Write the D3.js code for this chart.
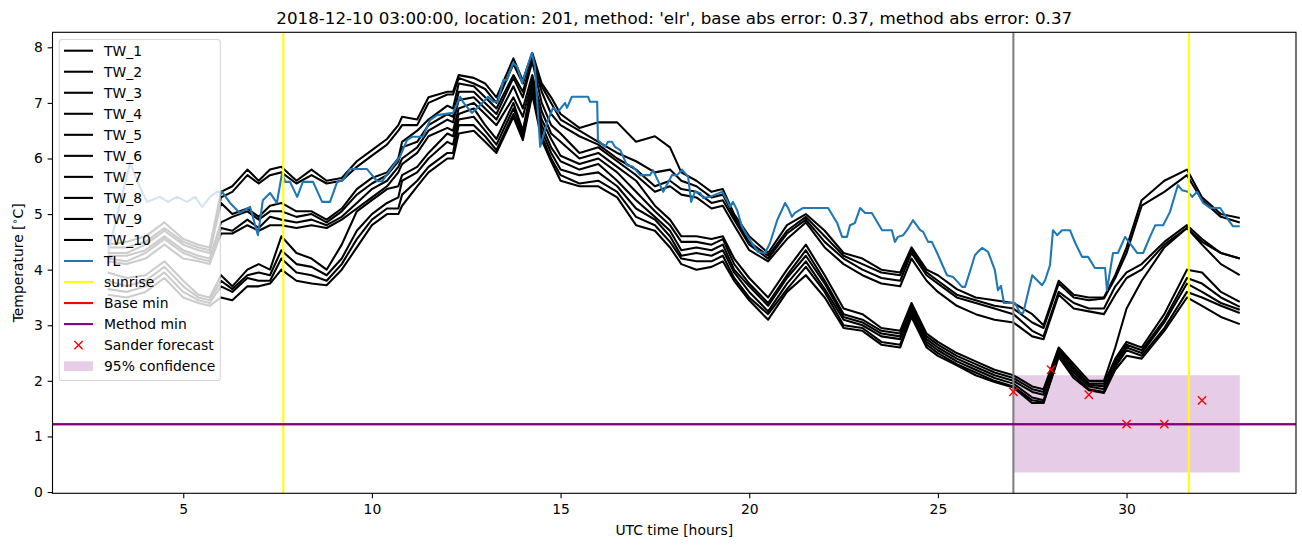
<!DOCTYPE html>
<html><head><meta charset="utf-8">
<script src="https://cdn.jsdelivr.net/npm/d3@7"></script>
<style>
body{margin:0;background:#fff}
svg{font-family:"DejaVu Sans",sans-serif;display:block}
</style>
</head><body>
<svg id="chart" width="1302" height="547"></svg>
<script>
// ---------------- data ----------------
const titleText = "2018-12-10 03:00:00, location: 201, method: 'elr', base abs error: 0.37, method abs error: 0.37";
const xLabel = "UTC time [hours]";
const xTicks = [5, 10, 15, 20, 25, 30];
const yTicks = [0, 1, 2, 3, 4, 5, 6, 7, 8];

const twTimes = [3.0,3.5,4.0,4.5,5.0,5.4,5.7,6.0,6.3,6.7,7.0,7.3,7.6,8.0,8.4,8.8,9.2,9.6,10.0,10.4,10.7,10.8,11.2,11.5,12.0,12.15,12.3,12.7,13.0,13.3,13.75,14.0,14.25,14.5,14.75,15.0,15.5,16.0,16.5,17.0,17.5,17.9,18.2,18.6,19.0,19.3,19.6,20.0,20.5,21.0,21.5,22.0,22.5,23.0,23.5,24.0,24.3,24.7,25.0,25.5,26.0,26.5,27.0,27.5,27.8,28.2,28.6,29.0,29.4,29.7,30.0,30.4,31.0,31.6,32.0,32.5,33.0];

const TW_1 = [4.45,4.5,4.6,4.85,4.55,4.45,4.4,5.4,5.5,5.8,5.6,5.8,5.85,5.6,5.8,5.6,5.65,5.95,6.15,6.35,6.6,6.75,6.7,7.1,7.2,7.2,7.5,7.45,7.35,7.1,7.8,7.4,7.9,7.35,7.1,6.8,6.55,6.65,6.65,6.3,6.4,6.2,5.75,5.6,5.4,5.45,5.0,4.6,4.3,4.8,5.0,4.7,4.3,4.2,4.0,3.95,4.4,4.0,3.9,3.65,3.5,3.45,3.4,3.2,3.0,3.8,3.55,3.5,3.5,3.9,4.4,5.25,5.6,5.8,5.3,5.0,4.93];
const TW_2 = [4.4,4.4,4.5,4.75,4.5,4.4,4.35,5.3,5.4,5.7,5.55,5.7,5.75,5.55,5.7,5.55,5.6,5.85,6.05,6.25,6.5,6.6,6.6,7.0,7.15,7.15,7.45,7.35,7.25,7.0,7.7,7.35,7.88,7.3,7.0,6.7,6.5,6.3,6.1,5.95,5.75,5.8,5.6,5.5,5.3,5.35,4.95,4.5,4.25,4.7,4.95,4.6,4.25,4.1,3.95,3.9,4.35,3.95,3.8,3.55,3.45,3.35,3.3,3.05,2.95,3.75,3.5,3.45,3.48,3.85,4.3,5.15,5.4,5.7,5.25,4.95,4.85];
const TW_3 = [4.3,4.3,4.45,4.7,4.45,4.35,4.3,5.2,5.0,5.1,4.95,5.15,5.2,5.05,5.05,4.9,5.1,5.45,5.65,5.75,6.0,6.3,6.5,6.7,6.95,6.9,7.35,7.3,7.1,6.9,7.5,7.2,7.8,7.2,6.8,6.6,6.4,6.25,6.0,5.8,5.5,5.6,5.45,5.4,5.2,5.25,4.9,4.45,4.2,4.65,4.9,4.5,4.2,4.0,3.85,3.8,4.3,3.9,3.75,3.5,3.4,3.3,3.2,2.9,2.8,3.6,3.4,3.3,3.3,3.7,3.95,4.1,4.5,4.8,4.55,4.3,4.2];
const TW_4 = [4.25,4.25,4.35,4.6,4.35,4.25,4.2,4.85,4.95,5.05,4.9,5.05,5.05,4.95,5.0,4.85,5.05,5.35,5.55,5.7,5.95,6.2,6.3,6.6,6.8,6.75,7.2,7.2,7.0,6.8,7.45,7.1,7.75,7.0,6.6,6.45,6.1,6.2,5.95,5.7,5.4,5.5,5.35,5.3,5.1,5.15,4.8,4.35,4.15,4.55,4.85,4.4,4.1,3.9,3.75,3.7,4.2,3.8,3.6,3.35,3.2,3.1,3.05,2.8,2.75,3.55,3.3,3.25,3.2,3.55,3.85,4.0,4.45,4.75,4.5,4.3,4.2];
const TW_5 = [4.2,4.15,4.3,4.55,4.3,4.2,4.15,4.75,4.7,4.9,4.75,4.95,4.9,4.85,4.9,4.8,4.95,5.2,5.45,5.6,5.85,6.0,6.2,6.5,6.7,6.65,7.05,7.1,6.9,6.7,7.3,6.9,7.5,6.85,6.45,6.3,6.0,6.1,5.85,5.6,5.15,4.9,4.6,4.6,4.55,4.6,4.2,3.85,3.5,4.0,4.45,3.9,3.3,3.2,2.95,2.9,3.4,2.85,2.7,2.5,2.35,2.2,2.1,1.9,1.85,2.6,2.3,2.0,2.0,2.6,3.3,3.8,4.4,4.75,4.45,4.1,3.9];
const TW_6 = [4.15,4.1,4.2,4.45,4.2,4.15,4.1,4.65,4.65,4.8,4.7,4.8,4.8,4.75,4.8,4.75,4.9,5.1,5.3,5.5,5.75,5.9,6.1,6.4,6.55,6.5,6.9,7.0,6.8,6.6,7.1,6.75,7.4,6.7,6.35,6.05,5.9,6.0,5.75,5.4,5.05,4.8,4.5,4.5,4.45,4.55,4.1,3.75,3.4,3.9,4.35,3.8,3.2,3.1,2.9,2.85,3.35,2.8,2.65,2.45,2.3,2.15,2.05,1.85,1.8,2.58,2.25,1.95,1.95,2.4,2.7,2.6,3.2,4.0,3.95,3.6,3.42];
const TW_7 = [3.95,3.85,3.9,4.15,3.8,3.55,3.5,3.9,3.7,4.0,4.1,4.0,4.6,4.3,4.2,4.0,4.45,5.05,5.25,5.45,5.5,5.7,5.85,6.1,6.45,6.4,6.8,6.9,6.6,6.35,7.0,6.5,7.35,6.6,6.2,5.95,5.8,5.9,5.6,5.25,4.95,4.7,4.35,4.4,4.35,4.45,4.0,3.7,3.35,3.85,4.25,3.75,3.15,3.05,2.85,2.8,3.3,2.75,2.6,2.4,2.25,2.1,2.0,1.8,1.75,2.55,2.2,1.93,1.9,2.35,2.65,2.55,3.1,3.85,3.75,3.5,3.33];
const TW_8 = [3.8,3.7,3.8,4.05,3.7,3.5,3.45,3.8,3.65,3.9,3.95,3.9,4.35,4.1,4.05,3.9,4.2,4.7,5.0,5.2,5.3,5.6,5.75,6.0,6.3,6.25,6.7,6.75,6.5,6.25,6.9,6.45,7.3,6.5,6.1,5.8,5.7,5.75,5.5,5.1,4.9,4.6,4.25,4.3,4.25,4.35,3.95,3.6,3.25,3.75,4.15,3.65,3.1,3.0,2.8,2.75,3.25,2.7,2.55,2.35,2.2,2.05,1.95,1.7,1.65,2.5,2.15,1.9,1.85,2.3,2.6,2.5,3.05,3.75,3.6,3.4,3.28];
const TW_9 = [3.65,3.6,3.7,3.95,3.6,3.45,3.4,3.7,3.6,3.85,3.8,3.8,4.2,3.95,3.9,3.8,4.1,4.55,4.9,5.1,5.1,5.35,5.6,5.85,6.1,6.1,6.6,6.6,6.4,6.15,6.8,6.4,7.2,6.4,6.0,5.7,5.55,5.6,5.4,4.95,4.8,4.5,4.2,4.15,4.15,4.25,3.85,3.5,3.2,3.65,4.05,3.6,3.0,2.95,2.7,2.65,3.2,2.65,2.5,2.3,2.15,2.0,1.9,1.65,1.62,2.45,2.1,1.85,1.8,2.25,2.55,2.45,2.95,3.6,3.5,3.35,3.22];
const TW_10 = [3.55,3.5,3.6,3.85,3.5,3.4,3.35,3.5,3.45,3.7,3.7,3.75,4.0,3.8,3.75,3.72,4.0,4.4,4.8,5.0,5.0,5.15,5.5,5.75,6.0,6.0,6.45,6.5,6.3,6.1,6.75,6.33,7.15,6.33,5.95,5.6,5.5,5.5,5.3,4.8,4.7,4.4,4.1,4.0,4.05,4.15,3.8,3.45,3.1,3.6,3.9,3.5,2.95,2.9,2.65,2.6,3.15,2.6,2.45,2.28,2.1,1.98,1.88,1.6,1.6,2.43,2.05,1.83,1.78,2.2,2.45,2.4,2.9,3.5,3.35,3.15,3.02];

const tlTimes = [3.01,3.59,3.80,4.04,4.38,4.60,4.83,5.10,5.31,5.50,5.71,5.89,6.03,6.24,6.50,6.77,6.98,7.11,7.30,7.48,7.62,7.70,7.83,8.02,8.17,8.44,8.68,8.89,9.08,9.23,9.42,9.87,10.14,10.27,10.48,10.74,10.93,11.06,11.35,11.54,11.73,12.15,12.34,12.41,12.65,12.87,13.08,13.21,13.34,13.48,13.58,13.74,13.85,13.98,14.24,14.32,14.46,14.64,14.80,14.93,15.12,15.17,15.30,15.73,15.78,15.97,15.99,16.18,16.26,16.36,16.44,16.58,16.76,16.92,17.11,17.37,17.45,17.72,17.95,18.09,18.22,18.38,18.46,18.56,18.70,18.78,18.96,19.28,19.41,19.49,19.57,19.68,19.81,20.02,20.23,20.42,20.55,20.74,20.95,21.03,21.13,21.21,21.43,22.09,22.33,22.46,22.59,22.67,22.80,22.94,23.07,23.25,23.52,23.78,23.86,23.94,24.08,24.18,24.34,24.53,24.61,24.74,24.84,24.98,25.24,25.40,25.64,25.72,25.90,25.98,26.06,26.17,26.33,26.51,26.59,26.67,26.75,27.04,27.18,27.26,27.50,27.57,27.76,27.84,27.97,28.05,28.16,28.29,28.50,28.64,28.82,28.98,29.16,29.43,29.48,29.64,29.77,29.96,30.28,30.44,30.62,30.76,30.97,31.15,31.28,31.36,31.47,31.63,31.74,31.87,32.03,32.21,32.48,32.66,32.82,33.00];
const tlValues = [4.32,5.92,5.56,5.22,5.31,5.22,5.31,5.22,5.31,5.13,5.31,5.40,5.40,5.20,5.02,5.13,4.62,5.25,5.38,5.20,5.74,5.58,5.58,5.31,5.58,5.58,5.22,5.22,5.58,5.61,5.81,5.81,5.59,5.59,5.79,6.03,6.33,6.39,6.39,6.69,6.78,6.82,7.11,7.02,6.82,6.96,7.11,7.02,7.02,7.41,7.41,7.72,7.65,7.36,7.90,7.65,6.21,6.64,6.91,6.84,7.00,6.91,7.11,7.11,7.02,7.02,6.33,6.21,6.30,6.30,6.21,6.15,5.88,5.85,5.70,5.70,5.79,5.40,5.70,5.70,5.80,5.67,5.22,5.40,5.38,5.29,5.31,5.40,5.25,5.13,5.22,5.07,4.77,4.53,4.32,4.30,4.48,4.89,5.20,5.11,4.95,5.02,5.11,5.11,4.84,4.59,4.59,4.80,4.84,5.11,5.02,5.02,4.71,4.71,4.50,4.59,4.62,4.71,4.89,4.71,4.68,4.50,4.50,4.30,3.90,3.87,3.69,3.69,4.08,4.26,4.32,4.39,4.32,3.99,3.63,3.71,3.40,3.40,3.22,3.22,3.90,3.85,3.72,3.81,4.08,4.71,4.62,4.71,4.71,4.48,4.23,4.23,4.03,4.03,3.63,4.30,4.30,4.59,4.30,4.30,4.59,4.80,4.80,5.04,5.34,5.52,5.43,5.40,5.31,5.40,5.20,5.11,5.11,4.93,4.78,4.78];

const sunriseTimes = [7.65, 31.65];
const forecastStart = 27;
const baseMin = 1.22;
const methodMin = 1.22;
const forecastTimes = [27, 28, 29, 30, 31, 32];
const forecastValues = [1.8, 2.2, 1.75, 1.22, 1.22, 1.65];
const confTimes = [27, 33];
const confLow = [0.35, 0.35];
const confHigh = [2.1, 2.1];

const twSeries = [TW_1, TW_2, TW_3, TW_4, TW_5, TW_6, TW_7, TW_8, TW_9, TW_10];
const twNames = ["TW_1","TW_2","TW_3","TW_4","TW_5","TW_6","TW_7","TW_8","TW_9","TW_10"];
const legendLabels = twNames.concat(["TL","sunrise","Base min","Method min","Sander forecast","95% confidence"]);

// ---------------- layout ----------------
const FS = 13.9;
const plot = {left: 52.5, right: 1296, top: 32.3, bottom: 493.3};
const x = d3.scaleLinear().domain([1.535, 34.49]).range([plot.left, plot.right]);
const y = d3.scaleLinear().domain([-0.023, 8.27]).range([plot.bottom, plot.top]);

const svg = d3.select("#chart");
svg.append("rect").attr("width", 1302).attr("height", 547).attr("fill", "#fff");

svg.append("defs").append("clipPath").attr("id", "clip")
  .append("rect").attr("x", plot.left).attr("y", plot.top)
  .attr("width", plot.right - plot.left).attr("height", plot.bottom - plot.top);

const g = svg.append("g").attr("clip-path", "url(#clip)");

// confidence band
const area = d3.area().x((d, i) => x(confTimes[i])).y0((d, i) => y(confLow[i])).y1((d, i) => y(confHigh[i]));
g.append("path").datum(confTimes).attr("d", area).attr("fill", "purple").attr("fill-opacity", 0.2);

const line = d3.line().x(d => x(d[0])).y(d => y(d[1]));

twSeries.forEach(s => {
  const pts = s.map((v, i) => [twTimes[i], v]).filter(d => d[0] !== undefined);
  g.append("path").datum(pts).attr("d", line).attr("fill", "none")
    .attr("stroke", "#000").attr("stroke-width", 2.08).attr("stroke-linejoin", "round");
});

g.append("path").datum(tlValues.map((v, i) => [tlTimes[i], v])).attr("d", line)
  .attr("fill", "none").attr("stroke", "#1f77b4").attr("stroke-width", 2.08).attr("stroke-linejoin", "round");

sunriseTimes.forEach(t => {
  g.append("line").attr("x1", x(t)).attr("x2", x(t)).attr("y1", plot.top).attr("y2", plot.bottom)
    .attr("stroke", "#ffff00").attr("stroke-width", 2.08);
});
g.append("line").attr("x1", x(forecastStart)).attr("x2", x(forecastStart)).attr("y1", plot.top).attr("y2", plot.bottom)
  .attr("stroke", "#808080").attr("stroke-width", 2.08);

g.append("line").attr("x1", plot.left).attr("x2", plot.right).attr("y1", y(baseMin)).attr("y2", y(baseMin))
  .attr("stroke", "red").attr("stroke-width", 2.08);
g.append("line").attr("x1", plot.left).attr("x2", plot.right).attr("y1", y(methodMin)).attr("y2", y(methodMin))
  .attr("stroke", "purple").attr("stroke-width", 2.08);

const mk = 4.15;
forecastTimes.forEach((t, i) => {
  const cx = x(t), cy = y(forecastValues[i]);
  g.append("path").attr("d", `M${cx-mk},${cy-mk}L${cx+mk},${cy+mk}M${cx-mk},${cy+mk}L${cx+mk},${cy-mk}`)
    .attr("stroke", "red").attr("stroke-width", 1.4).attr("fill", "none");
});

// axes
const xAxis = d3.axisBottom(x).tickValues(xTicks).tickSize(4.86).tickPadding(5.5).tickFormat(d3.format("d"));
const yAxis = d3.axisLeft(y).tickValues(yTicks).tickSize(4.86).tickPadding(4.86).tickFormat(d3.format("d"));
const gx = svg.append("g").attr("transform", `translate(0,${plot.bottom})`).call(xAxis);
const gy = svg.append("g").attr("transform", `translate(${plot.left},0)`).call(yAxis);
[gx, gy].forEach(a => {
  a.select(".domain").remove();
  a.selectAll(".tick line").attr("stroke", "#000").attr("stroke-width", 1.1);
  a.selectAll(".tick text").attr("fill", "#000").attr("font-size", FS).attr("font-family", "DejaVu Sans");
});

svg.append("rect").attr("x", plot.left).attr("y", plot.top)
  .attr("width", plot.right - plot.left).attr("height", plot.bottom - plot.top)
  .attr("fill", "none").attr("stroke", "#000").attr("stroke-width", 1.1);

svg.append("text").attr("x", (plot.left + plot.right) / 2).attr("y", 24.2)
  .attr("text-anchor", "middle").attr("font-size", 16.7).text(titleText);
svg.append("text").attr("x", (plot.left + plot.right) / 2).attr("y", 535)
  .attr("text-anchor", "middle").attr("font-size", FS).text(xLabel);
const yl = svg.append("text").attr("transform", `translate(23,${(plot.top + plot.bottom) / 2}) rotate(-90)`)
  .attr("text-anchor", "middle").attr("font-size", FS);
yl.append("tspan").text("Temperature [");
yl.append("tspan").attr("font-size", FS * 0.7).attr("dy", -5).text("\u2218");
yl.append("tspan").attr("dy", 5).text("C]");

// legend
const lg = svg.append("g");
lg.append("rect").attr("x", 59.3).attr("y", 39.5).attr("width", 161).attr("height", 341)
  .attr("rx", 2.8).attr("fill", "#fff").attr("fill-opacity", 0.8)
  .attr("stroke", "#cccccc").attr("stroke-opacity", 0.8).attr("stroke-width", 1.1);
const handleColors = ["#000","#000","#000","#000","#000","#000","#000","#000","#000","#000","#1f77b4","#ffff00","red","purple"];
legendLabels.forEach((lab, i) => {
  const cy = 50.7 + 21.03 * i;
  if (i < 14) {
    lg.append("line").attr("x1", 64).attr("x2", 93).attr("y1", cy).attr("y2", cy)
      .attr("stroke", handleColors[i]).attr("stroke-width", 2.08);
  } else if (i === 14) {
    const cx = 78.5;
    lg.append("path").attr("d", `M${cx-mk},${cy-mk}L${cx+mk},${cy+mk}M${cx-mk},${cy+mk}L${cx+mk},${cy-mk}`)
      .attr("stroke", "red").attr("stroke-width", 1.4);
  } else {
    lg.append("rect").attr("x", 64).attr("y", cy - 4.9).attr("width", 29).attr("height", 9.8)
      .attr("fill", "purple").attr("fill-opacity", 0.2);
  }
  lg.append("text").attr("x", 104).attr("y", cy + 5).attr("font-size", FS).text(lab);
});
</script>
</body></html>
